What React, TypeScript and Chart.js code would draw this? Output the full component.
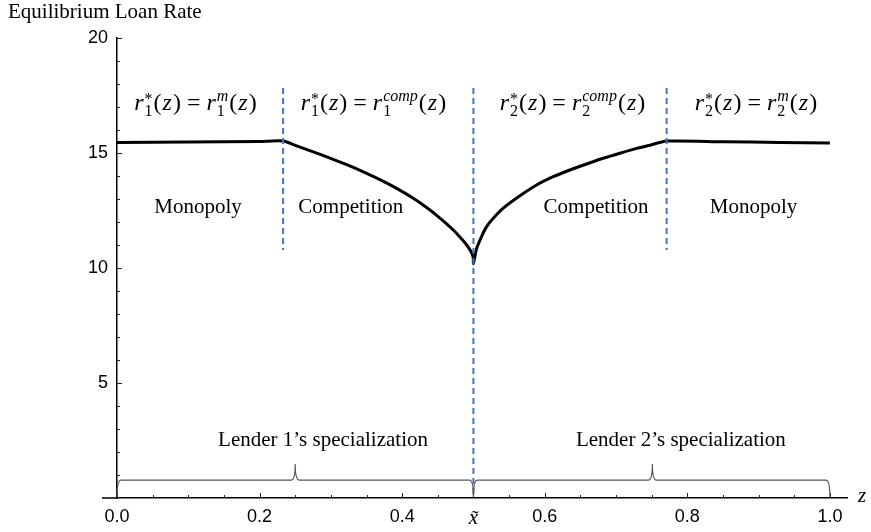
import React, { useEffect, useRef } from "react";
import { Chart, registerables } from "chart.js";

Chart.register(...registerables);

// ---- data ----
const zValues = [
  0, 0.1, 0.2, 0.233, 0.252, 0.2753, 0.2987, 0.3222, 0.3455, 0.3689, 0.3923, 0.4156,
  0.4343, 0.4484, 0.4624, 0.4717, 0.481, 0.4881, 0.4927, 0.4975, 0.4997, 0.5,
  0.5045, 0.5115, 0.5185, 0.5278, 0.5418, 0.5652, 0.5886, 0.6119, 0.6353, 0.6587,
  0.6821, 0.7055, 0.7289, 0.7499, 0.771, 0.85, 0.93, 1.0,
];
const rateValues = [
  15.46, 15.48, 15.5, 15.52, 15.31, 15.05, 14.78, 14.49, 14.18, 13.84, 13.46, 13.03,
  12.63, 12.29, 11.92, 11.65, 11.35, 11.1, 10.91, 10.66, 10.45, 10.2,
  10.85, 11.38, 11.8, 12.16, 12.6, 13.14, 13.61, 13.97, 14.26, 14.52,
  14.77, 14.99, 15.2, 15.36, 15.52, 15.49, 15.46, 15.43,
];

const dividerZ = [0.233, 0.5, 0.771];
const dividerTop = [17.83, 17.83, 17.83];
const dividerBottom = [10.78, 0, 10.78];

const xTickValues = [0, 0.2, 0.4, 0.5, 0.6, 0.8, 1.0];
const xTickLabels = ["0.0", "0.2", "0.4", "x\u0303", "0.6", "0.8", "1.0"];
const yTickValues = [5, 10, 15, 20];
const yTickLabels = ["5", "10", "15", "20"];

const regionNames = ["Monopoly", "Competition", "Competition", "Monopoly"];
const regionZ = [0.1136, 0.328, 0.672, 0.893];
const regionRate = 12.65;

const formulaLender = ["1", "1", "2", "2"];
const formulaRegime = ["m", "comp", "comp", "m"];
const formulaZ = [0.1108, 0.3604, 0.6396, 0.897];
const formulaRate = 16.87;

const lenderNames = ["Lender 1\u2019s specialization", "Lender 2\u2019s specialization"];
const lenderZ = [0.289, 0.791];
const lenderRate = 2.48;

const braceFrom = [0, 0.5];
const braceTo = [0.5, 1.0];
const braceTipZ = [0.25, 0.751];
const braceLevel = 0.78;
const braceTipLevel = 1.48;
const braceFoot = 0.05;

const yTitle = "Equilibrium Loan Rate";
const xTitle = "z";

const SERIF = '"Liberation Serif", "Times New Roman", serif';
const SANS = '"Liberation Sans", Arial, sans-serif';

type Tok = { t?: string; italic?: boolean; sub?: string; sup?: string; supItalic?: boolean; gap?: number };

function drawFormula(ctx: CanvasRenderingContext2D, cx: number, baseline: number, lender: string, regime: string) {
  const big = 24;
  const small = 16;
  const toks: Tok[] = [
    { t: "r", italic: true },
    { sub: lender, sup: "*" },
    { t: "(" },
    { t: "z", italic: true },
    { t: ")" },
    { gap: 5 },
    { t: "=" },
    { gap: 5 },
    { t: "r", italic: true },
    { sub: lender, sup: regime, supItalic: true },
    { t: "(" },
    { t: "z", italic: true },
    { t: ")" },
  ];
  const bigFont = (it?: boolean) => `${it ? "italic " : ""}${big}px ${SERIF}`;
  const smallFont = (it?: boolean) => `${it ? "italic " : ""}${small}px ${SERIF}`;
  const widthOf = (tk: Tok) => {
    if (tk.gap !== undefined) return tk.gap;
    if (tk.t !== undefined) {
      ctx.font = bigFont(tk.italic);
      return ctx.measureText(tk.t).width + 1;
    }
    ctx.font = smallFont(false);
    const ws = ctx.measureText(tk.sub || "").width;
    ctx.font = smallFont(tk.supItalic);
    const wp = ctx.measureText(tk.sup || "").width;
    return Math.max(ws, wp) + 1;
  };
  const total = toks.reduce((s, tk) => s + widthOf(tk), 0);
  let x = cx - total / 2;
  ctx.save();
  ctx.fillStyle = "#000";
  ctx.textAlign = "left";
  ctx.textBaseline = "alphabetic";
  for (const tk of toks) {
    const w = widthOf(tk);
    if (tk.t !== undefined) {
      ctx.font = bigFont(tk.italic);
      ctx.fillText(tk.t, x, baseline);
    } else if (tk.sub !== undefined) {
      ctx.font = smallFont(false);
      ctx.fillText(tk.sub, x, baseline + 6);
      ctx.font = smallFont(tk.supItalic);
      ctx.fillText(tk.sup || "", x, baseline - (tk.sup === "*" ? 6 : 9));
    }
    x += w;
  }
  ctx.restore();
}

const annotationPlugin = {
  id: "annotations",
  afterDraw(chart: any) {
    const ctx: CanvasRenderingContext2D = chart.ctx;
    const xs = chart.scales.x;
    const ys = chart.scales.y;
    const px = (v: number) => xs.getPixelForValue(v);
    const py = (v: number) => ys.getPixelForValue(v);
    const x0 = px(0);
    const y0 = py(0);
    ctx.save();

    // x axis extension left of the y axis
    ctx.strokeStyle = "#000";
    ctx.lineWidth = 1.5;
    ctx.beginPath();
    ctx.moveTo(x0 - 15, y0);
    ctx.lineTo(x0, y0);
    ctx.stroke();

    // inward ticks
    ctx.lineWidth = 1;
    ctx.strokeStyle = "#222";
    for (let i = 0; i <= 20; i++) {
      const p = Math.round(px(i * 0.05)) + 0.5;
      const len = i % 4 === 0 ? 5 : 3;
      ctx.beginPath();
      ctx.moveTo(p, y0);
      ctx.lineTo(p, y0 - len);
      ctx.stroke();
    }
    for (let i = 1; i <= 20; i++) {
      const p = Math.round(py(i)) + 0.5;
      const len = i % 5 === 0 ? 5 : 3;
      ctx.beginPath();
      ctx.moveTo(x0, p);
      ctx.lineTo(x0 + len, p);
      ctx.stroke();
    }

    // braces
    ctx.strokeStyle = "#555";
    ctx.lineWidth = 1.2;
    for (let i = 0; i < braceFrom.length; i++) {
      const xa = px(braceFrom[i]);
      const xb = px(braceTo[i]);
      const xm = px(braceTipZ[i]);
      const yl = py(braceLevel);
      const yt = py(braceTipLevel);
      const yb = py(braceFoot);
      const r = 4;
      ctx.beginPath();
      ctx.moveTo(xa, yb);
      ctx.quadraticCurveTo(xa, yl, xa + r, yl);
      ctx.lineTo(xm - r, yl);
      ctx.quadraticCurveTo(xm, yl, xm, yt);
      ctx.quadraticCurveTo(xm, yl, xm + r, yl);
      ctx.lineTo(xb - r, yl);
      ctx.quadraticCurveTo(xb, yl, xb, yb);
      ctx.stroke();
    }

    // region labels
    ctx.fillStyle = "#000";
    ctx.textAlign = "center";
    ctx.textBaseline = "middle";
    ctx.font = `21px ${SERIF}`;
    regionNames.forEach((n, i) => ctx.fillText(n, px(regionZ[i]), py(regionRate)));
    lenderNames.forEach((n, i) => ctx.fillText(n, px(lenderZ[i]), py(lenderRate)));

    // formulas
    formulaZ.forEach((z, i) => drawFormula(ctx, px(z), py(formulaRate), formulaLender[i], formulaRegime[i]));

    // axis titles
    ctx.textAlign = "left";
    ctx.textBaseline = "alphabetic";
    ctx.font = `21px ${SERIF}`;
    ctx.fillText(yTitle, 8, 18);
    ctx.font = `italic 21px ${SERIF}`;
    ctx.fillText(xTitle, 858, 502);
    ctx.restore();
  },
};

export default function App() {
  const canvasRef = useRef<HTMLCanvasElement | null>(null);

  useEffect(() => {
    const canvas = canvasRef.current;
    if (!canvas) return;
    const curve = zValues.map((z, i) => ({ x: z, y: rateValues[i] }));
    const dividers = dividerZ.map((z, i) => ({
      type: "line" as const,
      data: [
        { x: z, y: dividerTop[i] },
        { x: z, y: dividerBottom[i] },
      ],
      borderColor: "#4472C4",
      borderWidth: 2,
      borderDash: [6, 4],
      pointRadius: 0,
      fill: false,
      order: 0,
    }));
    const chart = new Chart(canvas, {
      type: "line",
      data: {
        datasets: [
          {
            data: curve,
            borderColor: "#000",
            borderWidth: 3,
            pointRadius: 0,
            tension: 0.25,
            fill: false,
            order: 1,
          },
          ...dividers,
        ] as any,
      },
      options: {
        animation: false,
        responsive: false,
        maintainAspectRatio: false,
        layout: { padding: { left: 0, right: 24, top: 38, bottom: 0 } },
        plugins: { legend: { display: false }, tooltip: { enabled: false } },
        scales: {
          x: {
            type: "linear",
            min: 0,
            max: 1.024,
            grid: { display: false, drawTicks: false },
            border: { display: true, color: "#000", width: 1.5 },
            afterBuildTicks: (scale: any) => {
              scale.ticks = xTickValues.map((v) => ({ value: v }));
            },
            afterFit: (scale: any) => {
              scale.height = 34;
            },
            ticks: {
              autoSkip: false,
              maxRotation: 0,
              padding: 8,
              color: "#000",
              font: (c: any) =>
                c.tick && c.tick.value === 0.5
                  ? { family: SERIF, size: 21, style: "italic" }
                  : { family: SANS, size: 18 },
              callback: (v: any) => {
                const i = xTickValues.indexOf(Number(v));
                return i >= 0 ? xTickLabels[i] : "";
              },
            },
          },
          y: {
            type: "linear",
            min: 0,
            max: 20,
            grid: { display: false, drawTicks: false },
            border: { display: true, color: "#000", width: 1.5 },
            afterBuildTicks: (scale: any) => {
              scale.ticks = yTickValues.map((v) => ({ value: v }));
            },
            afterFit: (scale: any) => {
              scale.width = 117;
            },
            ticks: {
              padding: 9,
              color: "#000",
              font: { family: SANS, size: 18 },
              callback: (v: any) => {
                const i = yTickValues.indexOf(Number(v));
                return i >= 0 ? yTickLabels[i] : "";
              },
            },
          },
        },
      } as any,
      plugins: [annotationPlugin],
    });
    return () => chart.destroy();
  }, []);

  return (
    <div style={{ position: "absolute", left: 0, top: 0, width: 871, height: 532, background: "#fff" }}>
      <canvas ref={canvasRef} width={871} height={532} style={{ display: "block" }} />
    </div>
  );
}
